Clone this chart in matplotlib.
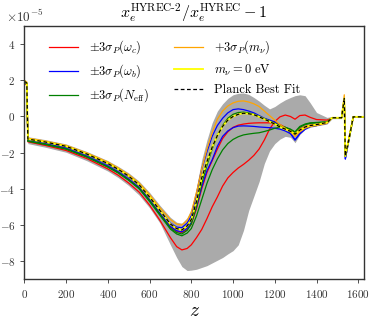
import numpy as np
import matplotlib
matplotlib.use("Agg")
import matplotlib.pyplot as plt

plt.rcParams['font.family'] = 'serif'
plt.rcParams['font.serif'] = ['cmr10', 'DejaVu Serif']
plt.rcParams['mathtext.fontset'] = 'cm'
plt.rcParams['axes.formatter.use_mathtext'] = True

# redshift grid
z = [0, 12, 17, 100, 200, 300, 400, 450, 500, 550, 600, 650, 700, 730, 755, 780, 800, 825, 850, 875,
     900, 925, 950, 975, 1000, 1025, 1050, 1075, 1100, 1125, 1150, 1175, 1200, 1225, 1250, 1275,
     1297, 1320, 1345, 1370, 1400, 1450, 1475, 1520, 1533, 1538, 1556, 1576, 1627]

# values in units of 1e-5
best_fit = [1.95, 1.85, -1.25, -1.41, -1.65, -2.08, -2.6, -2.92, -3.3, -3.78, -4.45, -5.2, -5.95, -6.2, -6.28, -6.05, -5.7, -4.7, -3.4, -2.5,
            -1.7, -1.05, -0.55, -0.2, 0.0, 0.12, 0.18, 0.15, 0.1, -0.02, -0.15, -0.28, -0.42, -0.58, -0.7, -0.82,
            -0.98, -0.75, -0.58, -0.5, -0.45, -0.33, -0.07, -0.07, 1.0, -2.2, -1.2, -0.02, -0.02]
mnu_zero = [1.95, 1.85, -1.25, -1.41, -1.65, -2.08, -2.6, -2.92, -3.3, -3.78, -4.45, -5.2, -5.95, -6.2, -6.28, -6.05, -5.7, -4.7, -3.4, -2.5,
            -1.7, -1.05, -0.55, -0.2, 0.0, 0.12, 0.18, 0.15, 0.1, -0.02, -0.15, -0.28, -0.42, -0.58, -0.7, -0.82,
            -0.98, -0.75, -0.58, -0.5, -0.45, -0.33, -0.07, -0.07, 1.0, -2.2, -1.2, -0.02, -0.02]
mnu_plus = [2.0, 1.9, -1.2, -1.36, -1.6, -2.02, -2.52, -2.85, -3.22, -3.68, -4.32, -5.05, -5.7, -5.95, -6.0, -5.75, -5.3, -4.2, -2.9, -1.8,
            -0.9, -0.15, 0.3, 0.58, 0.75, 0.84, 0.86, 0.8, 0.7, 0.55, 0.3, 0.05, -0.2, -0.45, -0.65, -0.85,
            -1.1, -0.85, -0.65, -0.55, -0.5, -0.38, -0.07, -0.07, 1.2, -2.1, -1.15, -0.02, -0.02]
wb_up = [1.9, 1.8, -1.3, -1.46, -1.7, -2.13, -2.65, -2.95, -3.35, -3.8, -4.5, -5.2, -5.9, -6.12, -6.15, -5.9, -5.5, -4.3, -2.9, -1.95,
         -1.1, -0.5, -0.1, 0.2, 0.38, 0.42, 0.38, 0.3, 0.2, 0.05, -0.1, -0.2, -0.3, -0.48, -0.65, -0.9,
         -1.3, -0.95, -0.7, -0.55, -0.5, -0.38, -0.07, -0.07, 1.0, -2.35, -1.25, -0.02, -0.02]
wb_dn = [1.9, 1.8, -1.32, -1.5, -1.76, -2.2, -2.74, -3.06, -3.46, -3.92, -4.6, -5.35, -6.08, -6.32, -6.38, -6.18, -5.85, -5.0, -3.9, -3.0,
         -2.4, -1.65, -1.1, -0.8, -0.62, -0.53, -0.52, -0.53, -0.55, -0.58, -0.6, -0.62, -0.65, -0.7, -0.8, -0.95,
         -1.3, -0.95, -0.7, -0.55, -0.5, -0.36, -0.07, -0.07, 0.9, -2.35, -1.25, -0.02, -0.02]
neff_up = [1.9, 1.8, -1.35, -1.53, -1.79, -2.23, -2.78, -3.1, -3.5, -3.97, -4.65, -5.42, -6.18, -6.42, -6.5, -6.3, -5.95, -4.95, -3.7, -2.7,
           -1.8, -1.05, -0.5, -0.1, 0.12, 0.22, 0.24, 0.2, 0.12, 0.0, -0.12, -0.25, -0.38, -0.5, -0.6, -0.72,
           -0.88, -0.6, -0.45, -0.38, -0.35, -0.3, -0.07, -0.07, 0.95, -2.2, -1.2, -0.02, -0.02]
neff_dn = [1.9, 1.8, -1.37, -1.55, -1.81, -2.25, -2.8, -3.13, -3.53, -4.0, -4.7, -5.47, -6.23, -6.5, -6.6, -6.45, -6.2, -5.5, -4.6, -3.7,
           -2.95, -2.35, -1.85, -1.5, -1.27, -1.12, -1.02, -0.97, -0.93, -0.9, -0.83, -0.75, -0.65, -0.6, -0.6, -0.7,
           -0.85, -0.55, -0.42, -0.35, -0.33, -0.3, -0.07, -0.07, 0.95, -2.2, -1.2, -0.02, -0.02]
wc_up = [1.9, 1.8, -1.33, -1.52, -1.78, -2.22, -2.76, -3.08, -3.48, -3.95, -4.62, -5.38, -6.13, -6.35, -6.42, -6.25, -5.95, -5.1, -4.0, -3.1,
         -2.45, -1.8, -1.22, -0.85, -0.6, -0.48, -0.42, -0.38, -0.36, -0.35, -0.35, -0.35, -0.36, -0.45, -0.6, -0.78,
         -0.95, -0.7, -0.55, -0.48, -0.43, -0.33, -0.07, -0.07, 0.95, -2.2, -1.2, -0.02, -0.02]
wc_dn = [1.85, 1.75, -1.4, -1.6, -1.88, -2.33, -2.9, -3.25, -3.68, -4.18, -4.9, -5.75, -6.7, -7.2, -7.38, -7.3, -7.1, -6.7, -6.25, -5.65,
         -5.0, -4.45, -3.85, -3.4, -3.1, -2.85, -2.65, -2.42, -2.15, -1.8, -1.3, -0.7, -0.28, -0.02, 0.08, 0.0,
         -0.15, 0.05, 0.08, -0.05, -0.17, -0.2, -0.1, -0.07, 0.95, -2.2, -1.2, -0.02, -0.02]
band_hi = [2.05, 1.95, -1.12, -1.28, -1.52, -1.94, -2.44, -2.76, -3.12, -3.58, -4.2, -4.92, -5.58, -5.85, -5.9, -5.6, -5.1, -3.9, -2.4, -1.3,
           -0.35, 0.3, 0.7, 1.0, 1.2, 1.28, 1.3, 1.22, 1.05, 0.85, 0.62, 0.42, 0.55, 0.75, 0.92, 1.05,
           1.15, 1.2, 1.15, 0.75, 0.22, -0.05, 0.0, 0.0, 1.0, -2.2, -1.15, 0.0, 0.0]
band_lo = [1.8, 1.7, -1.5, -1.7, -1.98, -2.45, -3.02, -3.38, -3.82, -4.35, -5.05, -5.9, -7.1, -7.8, -8.3, -8.52, -8.5, -8.45, -8.35, -8.25,
           -8.1, -7.95, -7.8, -7.6, -7.42, -7.1, -6.3, -5.2, -4.4, -3.6, -2.6, -1.9, -1.5, -1.25, -1.1, -1.15,
           -1.45, -1.0, -0.72, -0.6, -0.52, -0.42, -0.12, -0.12, 0.9, -2.3, -1.3, -0.05, -0.05]

z = np.array(z)
s = 1e-5

fig = plt.figure(figsize=(3.74, 3.18), dpi=100)
ax = fig.add_axes([0.065, 0.122, 0.908, 0.796])

ax.fill_between(z, np.array(band_lo) * s, np.array(band_hi) * s, color='#aaaaaa', lw=0, zorder=1)
lw = 0.9
ax.plot(z, np.array(wc_up) * s, color='red', lw=lw, label=r'$\pm 3\sigma_P(\omega_c)$')
ax.plot(z, np.array(wc_dn) * s, color='red', lw=lw)
ax.plot(z, np.array(wb_up) * s, color='blue', lw=lw, label=r'$\pm 3\sigma_P(\omega_b)$')
ax.plot(z, np.array(wb_dn) * s, color='blue', lw=lw)
ax.plot(z, np.array(neff_up) * s, color='green', lw=lw, label=r'$\pm 3\sigma_P(N_{\rm eff})$')
ax.plot(z, np.array(neff_dn) * s, color='green', lw=lw)
ax.plot(z, np.array(mnu_plus) * s, color='orange', lw=lw, label=r'$+3\sigma_P(m_\nu)$')
ax.plot(z, np.array(mnu_zero) * s, color='yellow', lw=1.3, label=r'$m_\nu = 0~{\rm eV}$')
ax.plot(z, np.array(best_fit) * s, color='black', lw=0.9, ls=(0, (3, 2)), label='Planck Best Fit')

ax.set_xlim(0, 1627)
ax.set_ylim(-9e-5, 5e-5)
ax.set_yticks(np.arange(-8, 5, 2) * 1e-5)
ax.set_xticks(np.arange(0, 1601, 200))
ax.tick_params(labelsize=8, colors='#333333', length=3, width=0.6)
for sp in ax.spines.values():
    sp.set_color('#333333')
    sp.set_linewidth(1.0)
ax.yaxis.get_offset_text().set_fontsize(9.5)
ax.yaxis.get_offset_text().set_x(-0.055)

ax.set_xlabel(r'$z$', fontsize=14, labelpad=1)
ax.set_title(r'$x_e^{\mathrm{HYREC\text{-}2}}/x_e^{\mathrm{HYREC}}-1$', fontsize=11.5, pad=6)

ax.legend(ncol=2, loc='upper left', bbox_to_anchor=(0.04, 0.995), frameon=False, fontsize=9,
          handlelength=2.3, columnspacing=2.0, labelspacing=0.5, handletextpad=0.9)

fig.savefig('out.png', dpi=100)
